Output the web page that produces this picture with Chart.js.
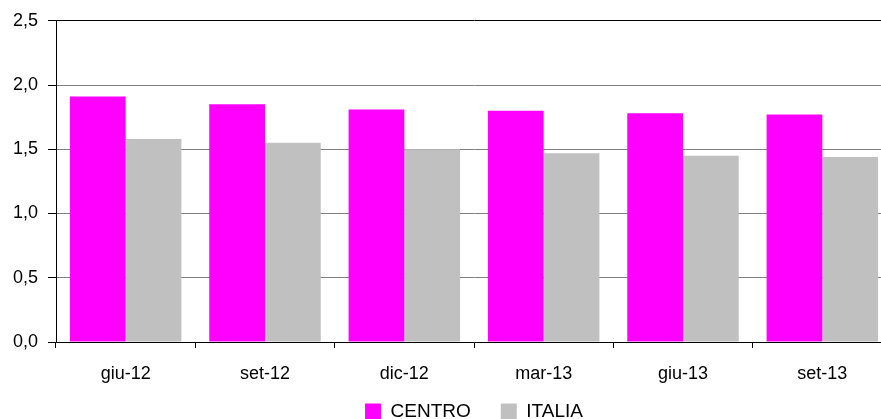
<!DOCTYPE html>
<html>
<head>
<meta charset="utf-8">
<script src="https://cdn.jsdelivr.net/npm/chart.js@4"></script>
<style>
  html, body { margin: 0; padding: 0; background: #fff; overflow: hidden; }
  #wrap { width: 881px; height: 419px; overflow: hidden; }
</style>
</head>
<body>
<div id="wrap"><canvas id="myChart" width="900" height="419"></canvas></div>
<script>
// data
let periods = ['giu-12', 'set-12', 'dic-12', 'mar-13', 'giu-13', 'set-13'];
let centroValues = [1.91, 1.85, 1.81, 1.80, 1.78, 1.77];
let italiaValues = [1.58, 1.55, 1.50, 1.47, 1.45, 1.44];

let fontFamily = '"Liberation Sans", Arial, sans-serif';

// keep the legend strip short, then stretch its box up so the items sit at the bottom edge
let legendPlacement = {
    id: 'legendPlacement',
    afterInit(chart) {
        let origFit = chart.legend.fit;
        chart.legend.fit = function () {
            origFit.bind(chart.legend)();
            this.height = 26;
        };
    },
    afterLayout(chart) {
        chart.legend.top -= 21;
        chart.legend.bottom = chart.height;
        chart.legend.height = chart.legend.bottom - chart.legend.top;
    }
};

let chartData = {
    type: 'bar',
    data: {
        labels: periods,
        datasets: [
            {
                label: 'CENTRO',
                data: centroValues,
                backgroundColor: '#FF00FF',
                borderWidth: 0,
                categoryPercentage: 0.8,
                barPercentage: 1.0
            },
            {
                label: 'ITALIA',
                data: italiaValues,
                backgroundColor: '#C0C0C0',
                borderWidth: 0,
                categoryPercentage: 0.8,
                barPercentage: 1.0
            }
        ]
    },
    options: {
        responsive: false,
        animation: false,
        layout: { padding: { top: 20, right: 8, left: 0, bottom: 0 } },
        plugins: {
            tooltip: { enabled: false },
            legend: {
                position: 'bottom',
                fullSize: false,
                labels: {
                    boxWidth: 16,
                    boxHeight: 16,
                    padding: 30,
                    color: '#000',
                    font: { family: fontFamily, size: 19 }
                }
            }
        },
        scales: {
            x: {
                grid: {
                    offset: true,
                    drawOnChartArea: false,
                    tickLength: 6,
                    color: '#000'
                },
                border: { color: '#000', width: 1 },
                ticks: {
                    color: '#000',
                    padding: 15,
                    font: { family: fontFamily, size: 18 }
                },
                afterFit(scale) { scale.height = 51; }
            },
            y: {
                min: 0,
                max: 2.5,
                ticks: {
                    stepSize: 0.5,
                    color: '#000',
                    padding: 10,
                    font: { family: fontFamily, size: 18 },
                    callback: v => v.toFixed(1).replace('.', ',')
                },
                grid: {
                    tickLength: 8,
                    color: ctx => (ctx.tick && ctx.tick.value === 2.5) ? '#000' : '#808080',
                    tickColor: '#000'
                },
                border: { color: '#000', width: 1 },
                afterFit(scale) { scale.width = 56; }
            }
        }
    },
    plugins: [legendPlacement]
};

let ctx = document.getElementById('myChart').getContext('2d');
let myChart = new Chart(ctx, chartData);
</script>
</body>
</html>
